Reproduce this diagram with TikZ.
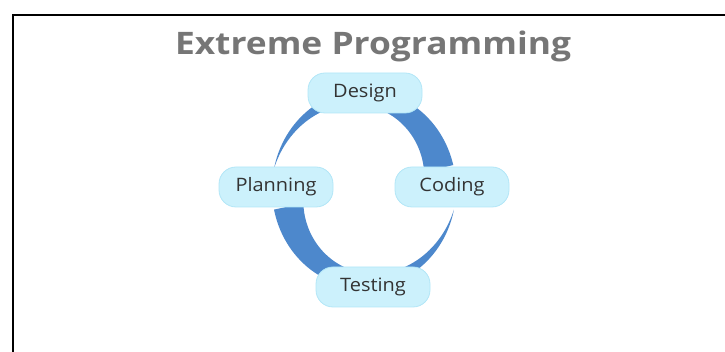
\documentclass[tikz,border=0pt]{standalone}
\usepackage{fontspec}
\setmainfont[FakeStretch=1.08]{Open Sans}
\newfontfamily\headfont[FakeStretch=1.14]{Open Sans}
\usetikzlibrary{positioning,calc}

\definecolor{ringblue}{RGB}{77,136,204}
\definecolor{stagefill}{RGB}{204,241,252}
\definecolor{stageline}{RGB}{178,230,247}
\definecolor{stagetext}{RGB}{51,51,51}
\definecolor{titlegray}{RGB}{118,118,118}

\begin{document}
\begin{tikzpicture}[x=1pt,y=1pt]

		\tikzstyle{stage}=[rectangle,
			fill=stagefill,draw=stageline,line width=0.8pt,
			rounded corners=17pt,
			minimum height=40pt,minimum width=114pt,
			text=stagetext,font=\fontsize{18.5}{20}\selectfont,
			on grid,inner sep=0mm]
		\tikzstyle{ring}=[fill=ringblue,draw=none]
		\tikzstyle{frame}=[draw=black,line width=1.6pt]

		\useasboundingbox (0,0) rectangle (725,352);
		\draw[frame]	(13,0) -- (13,337) -- (725,337);

		\node[text=titlegray,font=\headfont\fontsize{31}{36}\selectfont\bfseries,anchor=base]
			(title)	at (373,297)	{Extreme Programming};

		\coordinate	(design-c)	at (365,259);
		\coordinate	(planning-c)	at (276,165);
		\coordinate	(coding-c)	at (452,165);
		\coordinate	(hub)	at ($(planning-c)!0.5!(coding-c)+(0,-2)$);

		% ring, two tapered halves
		\fill[ring,shift={(hub)}]
			plot[domain=168:14,samples=60]	({92*cos(\x)},{99*sin(\x)})
			-- plot[domain=14:168,samples=60]	({(92-30*(168-\x)/154)*cos(\x)},{(99-30*(168-\x)/154)*sin(\x)})
			-- cycle;
		\fill[ring,shift={(hub)}]
			plot[domain=-12:-168,samples=60]	({92*cos(\x)},{99*sin(\x)})
			-- plot[domain=-168:-12,samples=60]	({(92-30*(-12-\x)/156)*cos(\x)},{(99-30*(-12-\x)/156)*sin(\x)})
			-- cycle;

		\node[stage]	(design)	at (design-c)	{Design};
		\node[stage,below left=94pt and 89pt of design]	(planning)	{Planning};
		\node[stage,below right=94pt and 87pt of design]	(coding)	{Coding};
		\node[stage,below right=194pt and 8pt of design]	(testing)	{Testing};

	\end{tikzpicture}
\end{document}
